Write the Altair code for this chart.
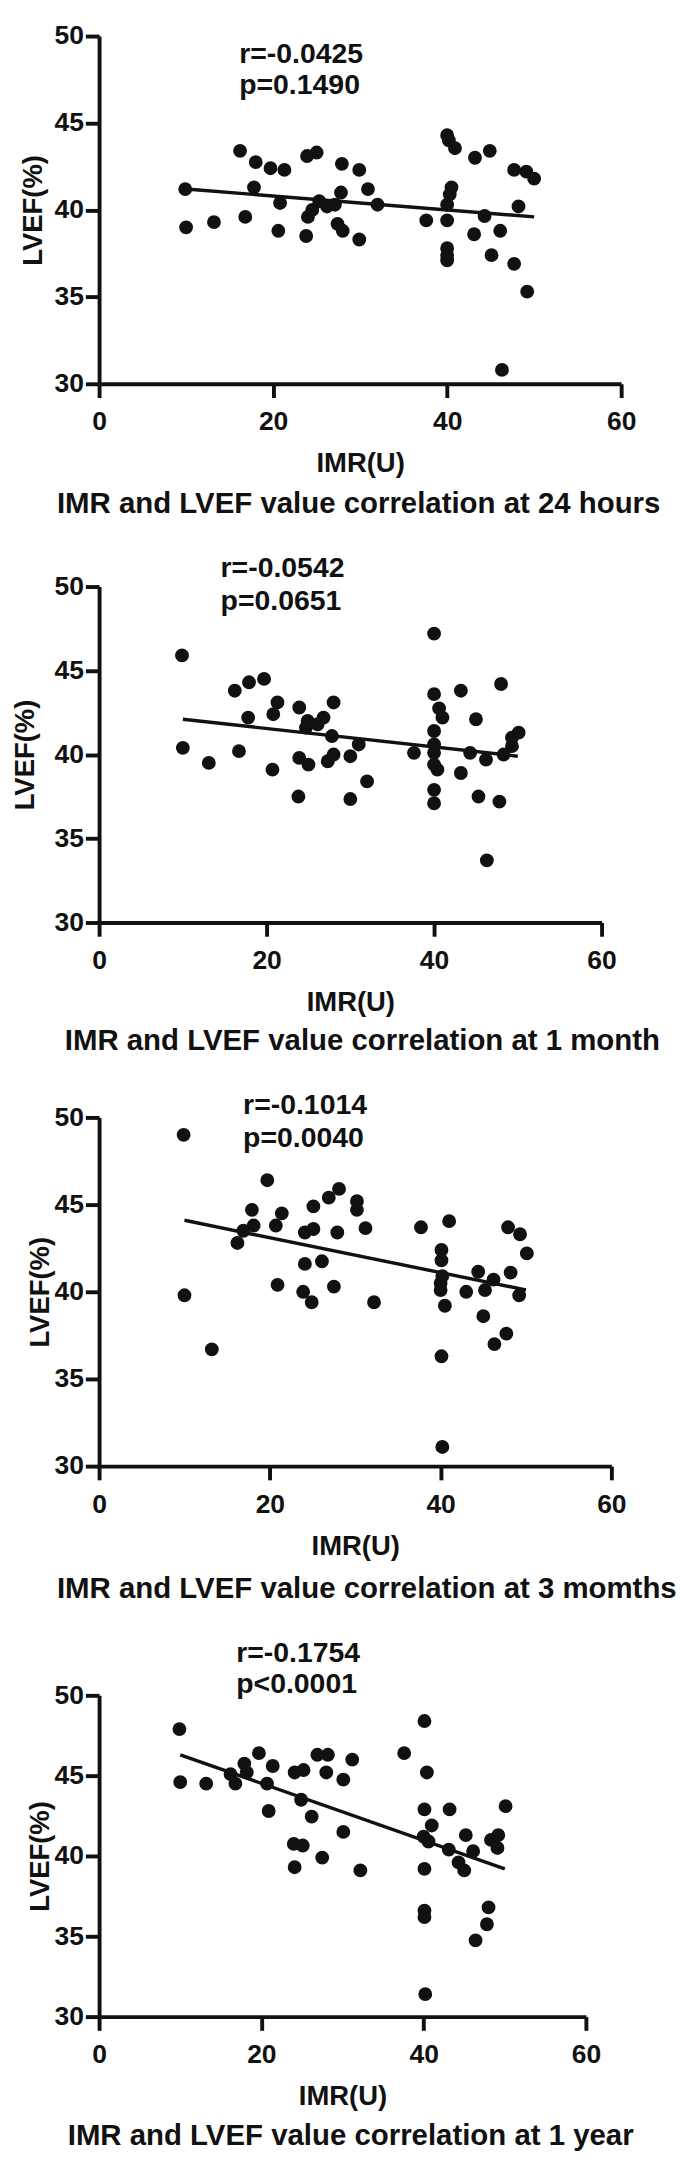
import altair as alt
import pandas as pd

FONT = "Liberation Sans"
INK = "#111111"

# ---------------- data ----------------
# 24 hours
imr_24h = [9.9, 10.0, 13.2, 16.2, 16.8, 17.8, 18.0, 19.7, 21.3, 20.8, 20.6, 23.9, 25.0, 23.8, 24.0, 24.5,
           25.3, 26.2, 27.1, 27.8, 27.4, 28.0, 27.9, 29.9, 29.9, 30.9, 32.0, 37.6, 40.0, 40.2, 40.9, 43.2,
           44.9, 40.5, 40.3, 40.0, 40.0, 40.0, 40.0, 40.0, 44.3, 43.1, 46.1, 45.1, 47.7, 49.1, 50.0, 48.2,
           47.7, 49.2, 46.3]
lvef_24h = [41.2, 39.0, 39.3, 43.4, 39.6, 41.3, 42.75, 42.4, 42.3, 40.4, 38.8, 43.1, 43.3, 38.5, 39.6, 40.0,
            40.5, 40.2, 40.3, 41.0, 39.2, 38.8, 42.65, 42.3, 38.3, 41.2, 40.3, 39.4, 44.3, 44.0, 43.55, 43.0,
            43.4, 41.3, 40.9, 40.3, 39.4, 37.8, 37.4, 37.1, 39.65, 38.6, 38.8, 37.4, 42.3, 42.2, 41.8, 40.2,
            36.9, 35.3, 30.8]
fit_x_24h = [10, 50]
fit_y_24h = [41.2, 39.6]

# 1 month
imr_1m = [9.9, 10.0, 13.1, 16.2, 17.9, 19.7, 16.7, 17.8, 21.3, 20.8, 20.7, 23.9, 23.8, 24.9, 24.7, 26.1,
          26.8, 28.0, 27.8, 23.9, 25.0, 27.3, 28.0, 30.0, 31.0, 32.0, 30.0,
          40.0, 40.0, 40.6, 41.0, 40.0, 40.0, 40.0, 40.0, 40.4, 40.0, 40.0, 37.6, 43.2, 48.0, 45.0,
          44.3, 46.2, 43.2, 45.3, 47.8, 46.3, 48.3, 49.3, 49.3, 50.1]
lvef_1m = [45.9, 40.4, 39.5, 43.8, 44.3, 44.5, 40.2, 42.2, 43.1, 42.4, 39.1, 42.8, 37.5, 42.0, 41.6, 41.8,
           42.2, 43.1, 41.1, 39.8, 39.4, 39.6, 40.0, 39.9, 40.6, 38.4, 37.35,
           47.2, 43.6, 42.75, 42.2, 41.4, 40.6, 40.1, 39.4, 39.1, 37.9, 37.1, 40.1, 43.8, 44.2, 42.1,
           40.1, 39.7, 38.9, 37.5, 37.2, 33.7, 40.0, 40.5, 41.0, 41.3]
fit_x_1m = [10, 50]
fit_y_1m = [42.1, 39.9]

# 3 months
imr_3m = [9.9, 10.0, 13.2, 19.7, 17.9, 18.1, 16.9, 16.2, 21.4, 20.7, 20.9, 25.1, 24.1, 25.1, 24.1, 26.1,
          23.9, 24.9, 26.9, 28.1, 27.9, 27.5, 30.2, 30.2, 31.2, 32.2,
          37.7, 41.0, 40.1, 40.1, 40.2, 40.0, 40.0, 40.5, 40.1, 40.2, 43.0, 44.4, 45.2, 46.2, 45.0,
          47.7, 46.3, 47.9, 49.3, 50.1, 48.2, 49.2]
lvef_3m = [49.0, 39.8, 36.7, 46.4, 44.7, 43.8, 43.5, 42.8, 44.5, 43.8, 40.4, 44.9, 43.4, 43.6, 41.6, 41.75,
           40.0, 39.4, 45.4, 45.9, 43.4, 40.3, 45.2, 44.7, 43.65, 39.4,
           43.7, 44.05, 42.4, 41.8, 40.9, 40.5, 40.1, 39.2, 36.3, 31.1, 40.0, 41.15, 40.1, 40.7, 38.6,
           37.6, 37.0, 43.7, 43.3, 42.2, 41.1, 39.8]
fit_x_3m = [10, 50]
fit_y_3m = [44.1, 40.1]

# 1 year
imr_1y = [9.9, 10.0, 13.2, 17.9, 18.2, 16.2, 16.8, 19.7, 21.4, 20.7, 20.9, 24.1, 25.2, 26.9, 28.2, 28.0,
          31.2, 30.1, 24.9, 26.2, 30.1, 24.0, 25.1, 27.5, 24.1, 32.2,
          40.1, 37.6, 40.4, 40.1, 43.2, 41.0, 40.0, 40.6, 50.1, 45.2, 43.1, 46.1, 48.3, 49.2, 49.1,
          44.3, 45.0, 40.1, 40.1, 40.1, 48.0, 47.8, 46.4, 40.2]
lvef_1y = [47.9, 44.6, 44.5, 45.75, 45.2, 45.1, 44.5, 46.4, 45.6, 44.5, 42.8, 45.2, 45.35, 46.3, 46.3, 45.2,
           46.0, 44.75, 43.5, 42.45, 41.5, 40.75, 40.65, 39.9, 39.3, 39.1,
           48.4, 46.4, 45.2, 42.9, 42.9, 41.9, 41.2, 40.9, 43.1, 41.3, 40.4, 40.3, 41.0, 41.3, 40.5,
           39.6, 39.1, 39.2, 36.6, 36.2, 36.8, 35.75, 34.75, 31.4]
fit_x_1y = [10, 50]
fit_y_1y = [46.3, 39.2]

r_labels = ["r=-0.0425", "r=-0.0542", "r=-0.1014", "r=-0.1754"]
p_labels = ["p=0.1490", "p=0.0651", "p=0.0040", "p<0.0001"]
captions = [
    "IMR and LVEF value correlation at 24 hours",
    "IMR and LVEF value correlation at 1 month",
    "IMR and LVEF value correlation at 3 momths",
    "IMR and LVEF value correlation at 1 year",
]
x_ticks = [0, 20, 40, 60]
y_ticks = [30, 35, 40, 45, 50]

series = [
    (imr_24h, lvef_24h, fit_x_24h, fit_y_24h),
    (imr_1m, lvef_1m, fit_x_1m, fit_y_1m),
    (imr_3m, lvef_3m, fit_x_3m, fit_y_3m),
    (imr_1y, lvef_1y, fit_x_1y, fit_y_1y),
]

# layout / style per panel
layout = [
    dict(w=533, h=355, ytp=7, rdx=143, roff=-79, rlh=32, cdx=38, coff=12),
    dict(w=513, h=343, ytp=15, rdx=124, roff=-44, rlh=34, cdx=54, coff=10),
    dict(w=523, h=356, ytp=0, rdx=147, roff=-50, rlh=34, cdx=31, coff=15),
    dict(w=497, h=328, ytp=0, rdx=140, roff=-18, rlh=32, cdx=42, coff=11),
]


def panel(i):
    xs, ys, fx, fy = series[i]
    L = layout[i]
    pts = pd.DataFrame({"IMR": xs, "LVEF": ys})
    fit = pd.DataFrame({"IMR": fx, "LVEF": fy})
    xsc = alt.Scale(domain=[0, 60], nice=False, zero=False)
    ysc = alt.Scale(domain=[30, 50], nice=False, zero=False)
    xax = alt.Axis(values=x_ticks, title="IMR(U)", labelPadding=12, titlePadding=16,
                   labelFlush=False, format="d", grid=False)
    yax = alt.Axis(values=y_ticks, title="LVEF(%)", labelPadding=2, titlePadding=L["ytp"],
                   format="d", grid=False)
    dots = alt.Chart(pts).mark_circle(size=200, color=INK, opacity=1).encode(
        x=alt.X("IMR:Q", scale=xsc, axis=xax),
        y=alt.Y("LVEF:Q", scale=ysc, axis=yax),
    )
    line = alt.Chart(fit).mark_line(color=INK, strokeWidth=3.5).encode(
        x=alt.X("IMR:Q", scale=xsc),
        y=alt.Y("LVEF:Q", scale=ysc),
    )
    inner = alt.layer(dots, line).properties(
        width=L["w"], height=L["h"],
        title=alt.Title(
            [r_labels[i], p_labels[i]], anchor="start", frame="group", dx=L["rdx"],
            offset=L["roff"], lineHeight=L["rlh"], fontSize=29, fontWeight="bold",
            font=FONT, color=INK,
        ),
    )
    return alt.vconcat(inner).properties(
        title=alt.Title(
            captions[i], orient="bottom", anchor="start", frame="bounds", dx=L["cdx"],
            offset=L["coff"], fontSize=30, fontWeight="bold", font=FONT, color=INK,
        )
    )


chart = alt.vconcat(*[panel(i) for i in range(4)], spacing=36).properties(
    padding={"left": 3, "top": -8, "right": 0, "bottom": 0}
).configure(
    background="white"
).configure_view(
    stroke=None
).configure_axis(
    grid=False,
    domainColor=INK, domainWidth=4,
    tickColor=INK, tickWidth=4, tickSize=14,
    labelFont=FONT, labelFontSize=27, labelFontWeight="bold", labelColor=INK,
    titleFont=FONT, titleFontSize=28, titleFontWeight="bold", titleColor=INK,
)

chart.save("out.html", embed_options={"renderer": "svg", "actions": False})
